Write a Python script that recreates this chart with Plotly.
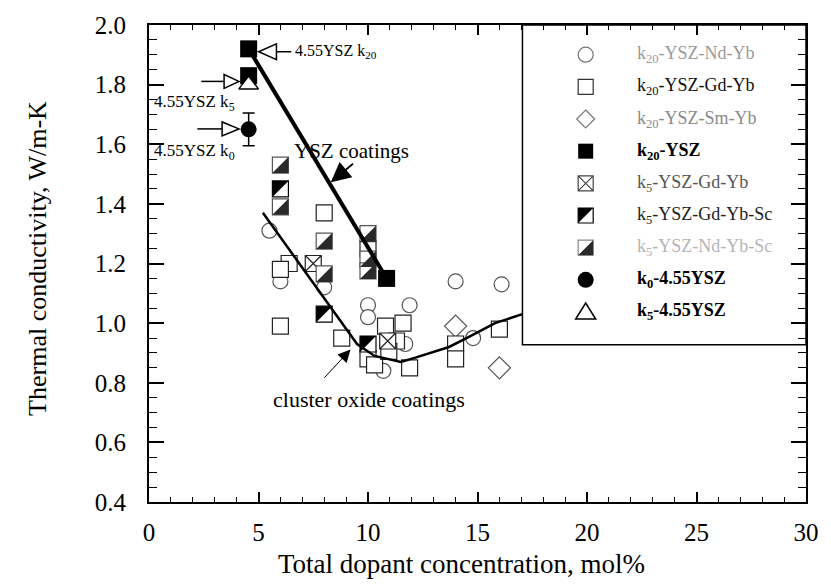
import plotly.graph_objects as go

# ---------------- data ----------------
nd_yb_x = [5.5, 6.0, 8.0, 10.0, 10.0, 11.9, 14.0, 16.1, 14.8, 11.7, 10.7]
nd_yb_y = [1.31, 1.14, 1.12, 1.06, 1.02, 1.06, 1.14, 1.13, 0.95, 0.93, 0.84]
gd_yb_x = [6.0, 6.4, 6.0, 8.0, 8.8, 10.0, 10.3, 10.8, 11.6, 11.3, 10.95, 11.9, 14.0, 14.0, 16.0, 10.0]
gd_yb_y = [0.99, 1.20, 1.18, 1.37, 0.95, 0.88, 0.86, 0.99, 1.00, 0.94, 0.905, 0.85, 0.93, 0.88, 0.98, 1.25]
sm_yb_x = [14.0, 16.0]
sm_yb_y = [0.99, 0.85]
ysz_x = [4.55, 4.55, 10.85]
ysz_y = [1.92, 1.83, 1.15]
k5_gd_yb_x = [7.5, 10.9]
k5_gd_yb_y = [1.20, 0.94]
k5_gd_yb_sc_x = [6.0, 8.0, 10.0]
k5_gd_yb_sc_y = [1.45, 1.03, 0.93]
k5_nd_yb_sc_x = [6.0, 6.0, 8.0, 8.0, 10.0, 10.0, 10.0]
k5_nd_yb_sc_y = [1.53, 1.39, 1.275, 1.165, 1.30, 1.215, 1.175]
k0_x = [4.55]
k0_y = [1.65]
k0_err = [0.055]
k5_x = [4.55]
k5_y = [1.80]
ysz_fit_x = [4.55, 10.85]
ysz_fit_y = [1.92, 1.15]
cluster_fit_x = [5.2, 9.5, 10.3, 11.5, 12.2, 13.7, 14.5, 15.8, 17.05]
cluster_fit_y = [1.37, 0.93, 0.89, 0.87, 0.885, 0.92, 0.95, 1.00, 1.03]

x_ticks = [0, 5, 10, 15, 20, 25, 30]
y_ticks = [0.4, 0.6, 0.8, 1.0, 1.2, 1.4, 1.6, 1.8, 2.0]

legend_labels = [
    "k<sub>20</sub>-YSZ-Nd-Yb",
    "k<sub>20</sub>-YSZ-Gd-Yb",
    "k<sub>20</sub>-YSZ-Sm-Yb",
    "<b>k<sub>20</sub>-YSZ</b>",
    "k<sub>5</sub>-YSZ-Gd-Yb",
    "k<sub>5</sub>-YSZ-Gd-Yb-Sc",
    "k<sub>5</sub>-YSZ-Nd-Yb-Sc",
    "<b>k<sub>0</sub>-4.55YSZ</b>",
    "<b>k<sub>5</sub>-4.55YSZ</b>",
]
legend_colors = ["#9a9a9a", "#111111", "#8a8a8a", "#000000", "#555555", "#222222", "#b5b5b5",
                 "#000000", "#000000"]

# ---------------- geometry ----------------
W, H = 831, 586
L, R, T, B = 149, 17, 20, 84
PW, PH = W - L - R, H - T - B
XMIN, XMAX, YMIN, YMAX = 0, 30, 0.4, 2.0
FONT = "Liberation Serif"


def px2x(px):
    return XMIN + (px - L) / PW * (XMAX - XMIN)


def py2y(py):
    return YMAX - (py - T) / PH * (YMAX - YMIN)


def px2p(px):
    return (px - L) / PW


def py2p(py):
    return (H - B - py) / PH


SQ = 16
TRI = SQ / 0.9
OFF = 0.3 * TRI / 2
DX = OFF / PW * (XMAX - XMIN)
DY = OFF / PH * (YMAX - YMIN)

fig = go.Figure()


def mk(x, y, symbol, size, color="white", lc="black", lw=1.2, **kw):
    fig.add_trace(go.Scatter(x=x, y=y, mode="markers", showlegend=False, hoverinfo="skip",
                             marker=dict(symbol=symbol, size=size, color=color,
                                         line=dict(color=lc, width=lw)), **kw))


mk(nd_yb_x, nd_yb_y, "circle", 15, lc="#555")
mk(sm_yb_x, sm_yb_y, "diamond", 17, lc="#555")
mk(gd_yb_x, gd_yb_y, "square", SQ, lc="#222")
mk(k5_gd_yb_x, k5_gd_yb_y, "square-x", SQ, lc="#222")
# half-filled squares (upper-left black)
mk(k5_gd_yb_sc_x, k5_gd_yb_sc_y, "square", SQ, lc="black")
mk([v - DX for v in k5_gd_yb_sc_x], [v + DY for v in k5_gd_yb_sc_y], "triangle-nw", TRI,
   color="black", lw=0)
# hatched squares (lower-right dark)
mk(k5_nd_yb_sc_x, k5_nd_yb_sc_y, "square", SQ, lc="#555")
mk([v + DX for v in k5_nd_yb_sc_x], [v - DY for v in k5_nd_yb_sc_y], "triangle-se", TRI,
   color="#2a2a2a", lw=0)

# fit lines
fig.add_trace(go.Scatter(x=cluster_fit_x, y=cluster_fit_y, mode="lines", showlegend=False,
                         line=dict(color="black", width=2.5), hoverinfo="skip"))
fig.add_trace(go.Scatter(x=ysz_fit_x, y=ysz_fit_y, mode="lines", showlegend=False,
                         line=dict(color="black", width=4), hoverinfo="skip"))

mk(ysz_x, ysz_y, "square", 17, color="black", lw=0)
fig.add_trace(go.Scatter(x=k0_x, y=k0_y, mode="markers", showlegend=False, hoverinfo="skip",
                         marker=dict(symbol="circle", size=16, color="black"),
                         error_y=dict(type="data", array=k0_err, color="black", width=6, thickness=1.5)))
mk(k5_x, k5_y, "triangle-up", 17, lc="black", lw=1.5)

shapes = []
annotations = []

# legend box
lx0, lx1, ly0, ly1 = 527, W - R, T, 343
shapes.append(dict(type="rect", xref="paper", yref="paper", x0=px2p(lx0), x1=px2p(lx1),
                   y0=py2p(ly1), y1=py2p(ly0), line=dict(color="black", width=1.5),
                   fillcolor="white", layer="below"))
rows = [50, 82.5, 115, 147.5, 180, 212.5, 245, 277.5, 310]
mx = px2p(591)
h = 7.5


def pshape(row, path, fill="white", lc="black", lw=1.2):
    shapes.append(dict(type="path", xref="paper", yref="paper", xsizemode="pixel", ysizemode="pixel",
                       xanchor=mx, yanchor=py2p(rows[row]), path=path, fillcolor=fill,
                       line=dict(color=lc, width=lw), layer="below"))


sq = f"M-{h},-{h} L{h},-{h} L{h},{h} L-{h},{h} Z"
shapes.append(dict(type="circle", xref="paper", yref="paper", xsizemode="pixel", ysizemode="pixel",
                   xanchor=mx, yanchor=py2p(rows[0]), x0=-7.5, x1=7.5, y0=-7.5, y1=7.5,
                   line=dict(color="#777", width=1.2), fillcolor="white", layer="below"))
pshape(1, sq, lc="#333")
pshape(2, "M0,9 L9,0 L0,-9 L-9,0 Z", lc="#777")
pshape(3, sq, fill="black", lw=0)
pshape(4, sq + f" M-{h},{h} L{h},-{h} M-{h},-{h} L{h},{h}", lc="#444")
pshape(5, sq)
pshape(5, f"M-{h},{h} L{h},{h} L-{h},-{h} Z", fill="black", lw=0)
pshape(6, sq, lc="#888")
pshape(6, f"M{h},-{h} L{h},{h} L-{h},-{h} Z", fill="#2a2a2a", lw=0)
shapes.append(dict(type="circle", xref="paper", yref="paper", xsizemode="pixel", ysizemode="pixel",
                   xanchor=mx, yanchor=py2p(rows[7]), x0=-8, x1=8, y0=-8, y1=8,
                   line=dict(color="black", width=0), fillcolor="black", layer="below"))
pshape(8, "M0,9 L-10,-7 L10,-7 Z", lw=1.5)

for i, (lab, col) in enumerate(zip(legend_labels, legend_colors)):
    annotations.append(dict(xref="paper", yref="paper", x=px2p(641), y=py2p(rows[i]),
                            xanchor="left", yanchor="middle", text=lab, showarrow=False,
                            font=dict(family=FONT, size=18, color=col)))


# open arrows (data coordinates computed from pixel layout)
def open_arrow(tail_px, base_px, tip_px, y_px, half):
    yc = py2y(y_px)
    yt = py2y(y_px - half)
    yb = py2y(y_px + half)
    shapes.append(dict(type="line", xref="x", yref="y", x0=px2x(tail_px), x1=px2x(base_px),
                       y0=yc, y1=yc, line=dict(color="black", width=1.5)))
    shapes.append(dict(type="path", xref="x", yref="y",
                       path=f"M{px2x(tip_px)},{yc} L{px2x(base_px)},{yt} L{px2x(base_px)},{yb} Z",
                       fillcolor="white", line=dict(color="black", width=1.5)))


open_arrow(293, 278, 260, 47, 8)
open_arrow(202, 225, 240, 77, 7)
open_arrow(198, 223, 240, 125, 7)

BLK = "black"
annotations += [
    dict(xref="paper", yref="paper", x=px2p(295), y=py2p(47), xanchor="left", yanchor="middle",
         text="4.55YSZ k<sub>20</sub>", showarrow=False, font=dict(family=FONT, size=16, color=BLK)),
    dict(xref="paper", yref="paper", x=px2p(152), y=py2p(99), xanchor="left", yanchor="middle",
         text="4.55YSZ k<sub>5</sub>", showarrow=False, font=dict(family=FONT, size=17, color=BLK)),
    dict(xref="paper", yref="paper", x=px2p(152), y=py2p(148), xanchor="left", yanchor="middle",
         text="4.55YSZ k<sub>0</sub>", showarrow=False, font=dict(family=FONT, size=17, color=BLK)),
    dict(xref="paper", yref="paper", x=px2p(354), y=py2p(147), xanchor="center", yanchor="middle",
         text="YSZ coatings", showarrow=False, font=dict(family=FONT, size=21, color=BLK)),
    dict(x=px2x(333), y=py2y(179), ax=px2x(357), ay=py2y(159), xref="x", yref="y",
         axref="x", ayref="y", text="", showarrow=True, arrowhead=2, arrowsize=2.2,
         arrowwidth=1.8, arrowcolor=BLK),
    dict(xref="paper", yref="paper", x=px2p(372), y=py2p(398), xanchor="center", yanchor="middle",
         text="cluster oxide coatings", showarrow=False, font=dict(family=FONT, size=22, color=BLK)),
    dict(x=px2x(353), y=py2y(348), ax=px2x(325), ay=py2y(378), xref="x", yref="y",
         axref="x", ayref="y", text="", showarrow=True, arrowhead=2, arrowsize=2.5,
         arrowwidth=1, arrowcolor=BLK),
    dict(xref="paper", yref="paper", x=px2p(465), y=py2p(565), xanchor="center", yanchor="middle",
         text="Total dopant concentration, mol%", showarrow=False,
         font=dict(family=FONT, size=27, color=BLK)),
    dict(xref="paper", yref="paper", x=px2p(36), y=py2p(256), xanchor="center", yanchor="middle",
         text="Thermal conductivity, W/m-K", textangle=-90, showarrow=False,
         font=dict(family=FONT, size=26, color=BLK)),
]

axis_common = dict(showgrid=False, zeroline=False, showline=True, linecolor="black", linewidth=2,
                   ticks="inside", mirror="ticks", tickcolor="black", tickwidth=1.5,
                   tickfont=dict(family=FONT, size=25, color="black"))
fig.update_layout(
    width=W, height=H, margin=dict(l=L, r=R, t=T, b=B, pad=0),
    paper_bgcolor="white", plot_bgcolor="white",
    font=dict(family=FONT, color="black"),
    xaxis=dict(range=[XMIN, XMAX], tickvals=x_ticks, ticklen=10, ticklabelstandoff=7,
               minor=dict(dtick=1, ticklen=5, ticks="inside", tickcolor="black", tickwidth=1),
               **axis_common),
    yaxis=dict(range=[YMIN, YMAX], tickvals=y_ticks, tickformat=".1f", ticklen=15,
               ticklabelstandoff=16,
               minor=dict(dtick=0.05, ticklen=8, ticks="inside", tickcolor="black", tickwidth=1),
               **axis_common),
    shapes=shapes, annotations=annotations, showlegend=False,
)

fig.write_html("out.html")
